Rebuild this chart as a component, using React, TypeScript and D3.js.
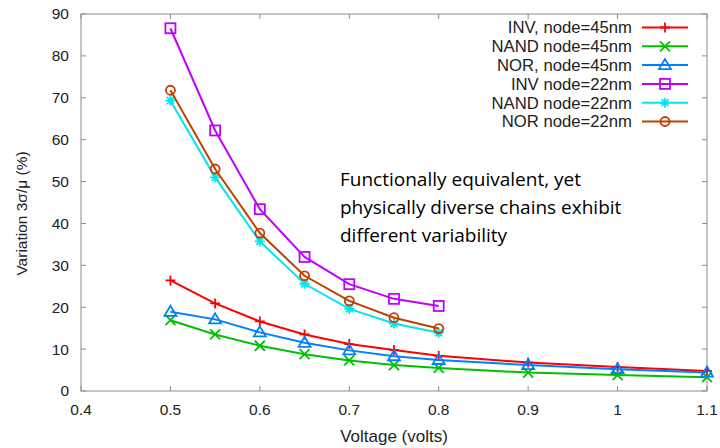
import React from "react";
import * as d3 from "d3";

const voltsLong = [0.5, 0.55, 0.6, 0.65, 0.7, 0.75, 0.8, 0.9, 1.0, 1.1];
const voltsShort = [0.5, 0.55, 0.6, 0.65, 0.7, 0.75, 0.8];

const inv45 = [26.4, 20.9, 16.6, 13.5, 11.2, 9.8, 8.4, 6.8, 5.7, 4.8];
const nand45 = [16.9, 13.5, 10.8, 8.8, 7.3, 6.2, 5.5, 4.4, 3.8, 3.3];
const nor45 = [18.9, 17.1, 14.0, 11.5, 9.7, 8.3, 7.4, 6.2, 5.2, 4.4];
const inv22 = [86.6, 62.2, 43.4, 32.0, 25.5, 22.0, 20.3];
const nand22 = [69.3, 51.0, 35.7, 25.6, 19.6, 16.1, 13.9];
const nor22 = [71.8, 53.0, 37.7, 27.5, 21.5, 17.5, 14.9];

const seriesNames = [
  "INV, node=45nm",
  "NAND node=45nm",
  "NOR, node=45nm",
  "INV node=22nm",
  "NAND node=22nm",
  "NOR node=22nm",
];
const seriesColors = ["#ff0000", "#00c000", "#0080ff", "#c000ff", "#00e5ee", "#c04000"];
const seriesMarkers = ["plus", "cross", "triangle", "square", "star", "circle"];
const seriesData = [
  { x: voltsLong, y: inv45 },
  { x: voltsLong, y: nand45 },
  { x: voltsLong, y: nor45 },
  { x: voltsShort, y: inv22 },
  { x: voltsShort, y: nand22 },
  { x: voltsShort, y: nor22 },
];

const xTicks = [0.4, 0.5, 0.6, 0.7, 0.8, 0.9, 1, 1.1];
const yTicks = [0, 10, 20, 30, 40, 50, 60, 70, 80, 90];
const annotation = [
  "Functionally equivalent, yet",
  "physically diverse chains exhibit",
  "different variability",
];

const W = 720;
const H = 448;
const left = 81;
const right = 707;
const top = 14;
const bottom = 391;

function Marker({ type, cx, cy, color }: { type: string; cx: number; cy: number; color: string }) {
  const s = 5;
  const sw = 1.8;
  switch (type) {
    case "plus":
      return (
        <path d={`M${cx - s},${cy}H${cx + s}M${cx},${cy - s}V${cy + s}`} stroke={color} strokeWidth={sw} fill="none" />
      );
    case "cross":
      return (
        <path
          d={`M${cx - s},${cy - s}L${cx + s},${cy + s}M${cx - s},${cy + s}L${cx + s},${cy - s}`}
          stroke={color}
          strokeWidth={sw}
          fill="none"
        />
      );
    case "triangle":
      return (
        <path
          d={`M${cx},${cy - s - 1}L${cx + s + 1},${cy + s - 1}L${cx - s - 1},${cy + s - 1}Z`}
          stroke={color}
          strokeWidth={sw}
          fill="none"
        />
      );
    case "square":
      return <rect x={cx - s} y={cy - s} width={2 * s} height={2 * s} stroke={color} strokeWidth={sw} fill="none" />;
    case "star":
      return (
        <path
          d={`M${cx - s},${cy}H${cx + s}M${cx},${cy - s}V${cy + s}M${cx - s * 0.7},${cy - s * 0.7}L${cx + s * 0.7},${cy + s * 0.7}M${cx - s * 0.7},${cy + s * 0.7}L${cx + s * 0.7},${cy - s * 0.7}`}
          stroke={color}
          strokeWidth={sw}
          fill="none"
        />
      );
    default:
      return <circle cx={cx} cy={cy} r={4.5} stroke={color} strokeWidth={sw} fill="none" />;
  }
}

export default function App() {
  const x = d3.scaleLinear().domain([0.4, 1.1]).range([left, right]);
  const y = d3.scaleLinear().domain([0, 90]).range([bottom, top]);
  const line = d3
    .line<[number, number]>()
    .x((d) => x(d[0]))
    .y((d) => y(d[1]));
  const frame = "#8c8c8c";
  const tickFont = "'Liberation Sans', Arial, sans-serif";
  const legendX = 632;
  const legendY0 = 27.5;
  const legendDy = 18.8;

  return (
    <svg
      width={W}
      height={H}
      style={{ position: "absolute", left: 0, top: 0, background: "#fff" }}
      fontFamily={tickFont}
    >
      {/* frame */}
      <rect x={left} y={top} width={right - left} height={bottom - top} fill="none" stroke={frame} strokeWidth={1} />
      {/* ticks */}
      {yTicks.map((t) => (
        <g key={"y" + t}>
          <line x1={left} x2={left + 5} y1={y(t)} y2={y(t)} stroke={frame} />
          <line x1={right} x2={right - 5} y1={y(t)} y2={y(t)} stroke={frame} />
          <text x={69} y={y(t)} dy="0.35em" textAnchor="end" fontSize={15.5} fill="#222">
            {t}
          </text>
        </g>
      ))}
      {xTicks.map((t) => (
        <g key={"x" + t}>
          <line x1={x(t)} x2={x(t)} y1={bottom} y2={bottom - 5} stroke={frame} />
          <line x1={x(t)} x2={x(t)} y1={top} y2={top + 5} stroke={frame} />
          <text x={x(t)} y={415} textAnchor="middle" fontSize={15.5} fill="#222">
            {t}
          </text>
        </g>
      ))}
      <text x={(left + right) / 2} y={442} textAnchor="middle" fontSize={17} fill="#222">
        Voltage (volts)
      </text>
      <text
        transform={`translate(27,${(top + bottom) / 2 + 11}) rotate(-90)`}
        textAnchor="middle"
        fontSize={15.5}
        fill="#222"
      >
        Variation 3σ/μ (%)
      </text>

      {/* series */}
      {seriesData.map((s, i) => {
        const pts = s.x.map((v, j) => [v, s.y[j]] as [number, number]);
        return (
          <g key={"s" + i}>
            <path d={line(pts) || ""} fill="none" stroke={seriesColors[i]} strokeWidth={2} />
            {pts.map((p, j) => (
              <Marker key={j} type={seriesMarkers[i]} cx={x(p[0])} cy={y(p[1])} color={seriesColors[i]} />
            ))}
          </g>
        );
      })}

      {/* legend */}
      {seriesNames.map((n, i) => {
        const ly = legendY0 + i * legendDy;
        return (
          <g key={"l" + i}>
            <text x={legendX} y={ly} dy="0.35em" textAnchor="end" fontSize={16.7} fill="#222">
              {n}
            </text>
            <line x1={642} x2={688} y1={ly} y2={ly} stroke={seriesColors[i]} strokeWidth={2} />
            <Marker type={seriesMarkers[i]} cx={665} cy={ly} color={seriesColors[i]} />
          </g>
        );
      })}

      {/* annotation */}
      {annotation.map((t, i) => (
        <text
          key={"a" + i}
          x={340}
          y={186 + i * 28}
          fontSize={19}
          fontFamily="'Open Sans', 'Noto Sans', sans-serif"
          fill="#000"
        >
          {t}
        </text>
      ))}
    </svg>
  );
}
